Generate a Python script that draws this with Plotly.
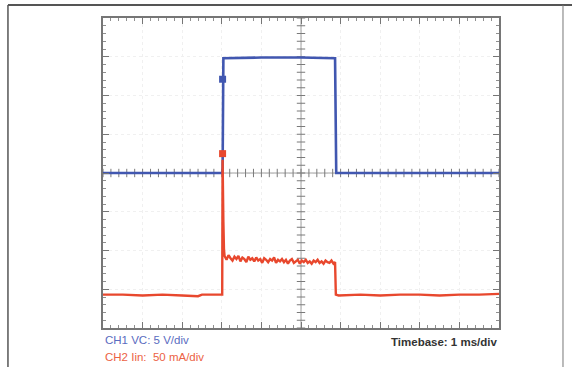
import numpy as np
import plotly.graph_objects as go

# ---- data (time in ms, CH1 in V, CH2 in mA) ----
ch1_t = [-5.0, -1.98, -1.96, -1.0, 0.0, 0.86, 0.89, 5.0]
ch1_v = [0.0, 0.0, 14.8, 14.9, 14.9, 14.8, 0.0, 0.0]

ch2_t = [-5.0, -4.5, -4.0, -3.5, -3.0, -2.6, -2.5, -2.2, -1.99,
         -1.98, -1.97, -1.96, -1.945,
         -1.93, -1.88, -1.83, -1.78, -1.73, -1.68, -1.63, -1.58, -1.53, -1.48,
         -1.43, -1.38, -1.33, -1.28, -1.23, -1.18, -1.13, -1.08, -1.03, -0.98,
         -0.93, -0.88, -0.83, -0.78, -0.73, -0.68, -0.63, -0.58, -0.53, -0.48,
         -0.43, -0.38, -0.33, -0.28, -0.23, -0.18, -0.13, -0.08, -0.03, 0.02,
         0.07, 0.12, 0.17, 0.22, 0.27, 0.32, 0.37, 0.42, 0.47, 0.52,
         0.57, 0.62, 0.67, 0.72, 0.77, 0.82, 0.86,
         0.88, 0.95, 1.5, 2.0, 2.5, 3.0, 3.5, 4.0, 4.5, 5.0]
ch2_ma = [12, 12, 11, 12, 11, 10, 12, 12, 12,
          186, 110, 106, 70,
          62, 57, 63, 59, 56, 61, 58, 62, 55, 60,
          58, 54, 61, 57, 59, 55, 60, 56, 58, 53,
          59, 57, 54, 58, 56, 60, 53, 57, 55, 58,
          54, 57, 52, 56, 58, 53, 55, 57, 52, 56,
          54, 57, 53, 55, 52, 56, 54, 57, 53, 55,
          52, 56, 54, 53, 56, 52, 54,
          12, 11, 12, 11, 12, 12, 11, 12, 12, 13]

ch1_scale = 5.0      # V/div
ch2_scale = 50.0     # mA/div
ch1_offset = 0.0     # div
ch2_offset = -3.38   # div

trig_t = -1.98
ch1_trig_v = 12.1
ch2_trig_ma = 194

labels = ["CH1 VC: 5 V/div", "CH2 Iin:  50 mA/div", "Timebase: 1 ms/div"]

BLUE = "#4157b0"
RED = "#e8482e"

ch1_div = [v / ch1_scale + ch1_offset for v in ch1_v]
ch2_div = [m / ch2_scale + ch2_offset for m in ch2_ma]

fig = go.Figure()

# center-cross graticule ticks
tick_x = np.round(np.arange(-5, 5.001, 0.2), 3)
tick_y = np.round(np.arange(-4, 4.001, 0.2), 3)
fig.add_trace(go.Scatter(x=[-5, 5], y=[0, 0], mode="lines",
                         line=dict(color="#a0a0a0", width=1), hoverinfo="skip", showlegend=False))
fig.add_trace(go.Scatter(x=[0, 0], y=[-4, 4], mode="lines",
                         line=dict(color="#a0a0a0", width=1), hoverinfo="skip", showlegend=False))
fig.add_trace(go.Scatter(x=tick_x, y=[0] * len(tick_x), mode="markers",
                         marker=dict(symbol="line-ns", size=6, line=dict(width=1, color="#7a7a7a")),
                         hoverinfo="skip", showlegend=False))
fig.add_trace(go.Scatter(x=[0] * len(tick_y), y=tick_y, mode="markers",
                         marker=dict(symbol="line-ew", size=6, line=dict(width=1, color="#7a7a7a")),
                         hoverinfo="skip", showlegend=False))

# traces
fig.add_trace(go.Scatter(x=ch1_t, y=ch1_div, mode="lines",
                         line=dict(color=BLUE, width=2.6), showlegend=False))
fig.add_trace(go.Scatter(x=ch2_t, y=ch2_div, mode="lines",
                         line=dict(color=RED, width=2.4), showlegend=False))

# trigger markers
fig.add_trace(go.Scatter(x=[trig_t], y=[ch1_trig_v / ch1_scale + ch1_offset], mode="markers",
                         marker=dict(symbol="square", size=7, color=BLUE), showlegend=False))
fig.add_trace(go.Scatter(x=[trig_t], y=[ch2_trig_ma / ch2_scale + ch2_offset], mode="markers",
                         marker=dict(symbol="square", size=7, color=RED), showlegend=False))

# ground markers on left edge
fig.add_trace(go.Scatter(x=[-5.15], y=[ch1_offset], mode="markers", cliponaxis=False,
                         marker=dict(symbol="square", size=9, color=BLUE), showlegend=False))
fig.add_trace(go.Scatter(x=[-5.15], y=[ch2_offset], mode="markers", cliponaxis=False,
                         marker=dict(symbol="square", size=9, color=RED), showlegend=False))

axis_common = dict(showline=True, linecolor="#767676", linewidth=1.5, mirror="ticks",
                   ticks="inside", ticklen=6, tickcolor="#767676", tickwidth=1,
                   showticklabels=False, zeroline=False,
                   showgrid=True, gridcolor="#f0f0f0", griddash="dot", gridwidth=1,
                   minor=dict(ticks="inside", ticklen=3, tickcolor="#8f8f8f", dtick=0.2, showgrid=False))

fig.update_xaxes(range=[-5, 5], dtick=1, tick0=-5, **axis_common)
fig.update_yaxes(range=[-4, 4], dtick=1, tick0=-4, **axis_common)

fig.update_layout(
    width=572, height=367,
    margin=dict(l=103, r=73, t=18, b=39),
    paper_bgcolor="white", plot_bgcolor="white",
    font=dict(family="Liberation Sans, Arial, sans-serif"),
    shapes=[
        dict(type="line", xref="paper", yref="paper", x0=-0.24, x1=1.2, y0=1.042, y1=1.042,
             line=dict(color="#555555", width=2)),
        dict(type="line", xref="paper", yref="paper", x0=-0.24, x1=-0.24, y0=1.042, y1=-0.2,
             line=dict(color="#555555", width=1.5)),
        dict(type="line", xref="paper", yref="paper", x0=1.1616, x1=1.1616, y0=1.042, y1=-0.2,
             line=dict(color="#777777", width=1)),
    ],
    annotations=[
        dict(text=labels[0], xref="paper", yref="paper", x=0.0, y=-0.039, xanchor="left",
             yanchor="middle", showarrow=False, font=dict(size=11.5, color="#5a6cc0")),
        dict(text=labels[1], xref="paper", yref="paper", x=0.0, y=-0.094, xanchor="left",
             yanchor="middle", showarrow=False, font=dict(size=11.5, color="#ec6244")),
        dict(text="<b>" + labels[2] + "</b>", xref="paper", yref="paper", x=1.0, y=-0.045,
             xanchor="right", yanchor="middle", showarrow=False,
             font=dict(size=11.5, color="#333333")),
    ],
)

fig.write_html("out.html", config={"displayModeBar": False},
               post_script="document.body.style.margin='0';document.body.style.padding='0';")
